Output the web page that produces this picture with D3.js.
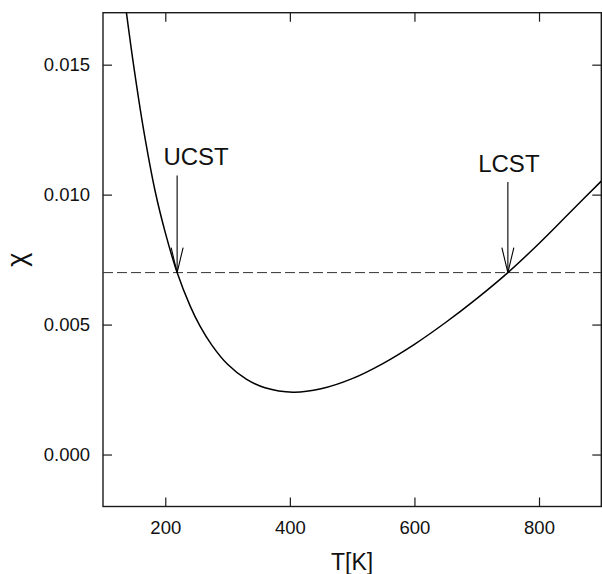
<!DOCTYPE html>
<html>
<head>
<meta charset="utf-8">
<script src="https://cdn.jsdelivr.net/npm/d3@7"></script>
<style>
  html, body { margin: 0; padding: 0; background: #fff; }
  svg { display: block; }
  text { font-family: "Liberation Sans", Arial, Helvetica, sans-serif; fill: #111; }
</style>
</head>
<body>
<svg id="chart" width="602" height="574"></svg>
<script>
// Flory-Huggins interaction parameter chi versus temperature
const temperature = [137.4, 149, 165, 184, 200, 219, 240, 256, 275, 300, 330, 360, 405, 450, 500, 550, 600, 650, 700, 750, 800, 850, 900];
const chi = [0.01704, 0.0150, 0.01252, 0.0101, 0.00854, 0.0070, 0.00571, 0.00493, 0.00420, 0.00347, 0.00290, 0.00257, 0.00240, 0.00253, 0.00292, 0.00351, 0.00424, 0.00508, 0.00600, 0.00700, 0.00812, 0.00932, 0.01052];

// critical chi level and the two critical solution temperatures
const chiCritical = 0.007;
const criticalNames = ["UCST", "LCST"];
const criticalT = [219, 750];
const arrowTopChi = [0.01074, 0.01049];

const xTicks = [200, 400, 600, 800];
const yTicks = [0.000, 0.005, 0.010, 0.015];
const xDomain = [100, 900];
const yDomain = [-0.002, 0.017];

const svg = d3.select("#chart");
const plotLeft = 103, plotRight = 601.3, plotTop = 12.7, plotBottom = 506.5;

const x = d3.scaleLinear().domain(xDomain).range([plotLeft, plotRight]);
const y = d3.scaleLinear().domain(yDomain).range([plotBottom, plotTop]);

const ink = "#1a1a1a";

svg.append("defs").append("clipPath").attr("id", "plot-clip")
  .append("rect").attr("x", plotLeft).attr("y", plotTop)
  .attr("width", plotRight - plotLeft).attr("height", plotBottom - plotTop);

// axes with inward ticks on all four sides
const gB = svg.append("g").attr("transform", `translate(0,${plotBottom})`)
  .call(d3.axisBottom(x).tickValues(xTicks).tickSize(-9).tickPadding(14).tickFormat(d3.format("d")));
const gT = svg.append("g").attr("transform", `translate(0,${plotTop})`)
  .call(d3.axisTop(x).tickValues(xTicks).tickSize(-9).tickFormat(""));
const gL = svg.append("g").attr("transform", `translate(${plotLeft},0)`)
  .call(d3.axisLeft(y).tickValues(yTicks).tickSize(-9).tickPadding(13).tickFormat(d3.format(".3f")));
const gR = svg.append("g").attr("transform", `translate(${plotRight},0)`)
  .call(d3.axisRight(y).tickValues(yTicks).tickSize(-9).tickFormat(""));

[gB, gT, gL, gR].forEach(g => {
  g.select(".domain").remove();
  g.selectAll(".tick line").attr("stroke", ink).attr("stroke-width", 1.2);
  g.selectAll(".tick text").attr("font-size", 18.5).attr("fill", "#111")
    .attr("font-family", "'Liberation Sans', Arial, sans-serif");
});

// frame
svg.append("rect")
  .attr("x", plotLeft).attr("y", plotTop)
  .attr("width", plotRight - plotLeft).attr("height", plotBottom - plotTop)
  .attr("fill", "none").attr("stroke", ink).attr("stroke-width", 1.4);

const plot = svg.append("g").attr("clip-path", "url(#plot-clip)");

// critical chi line
plot.append("line")
  .attr("x1", x(xDomain[0])).attr("x2", x(xDomain[1]))
  .attr("y1", y(chiCritical)).attr("y2", y(chiCritical))
  .attr("stroke", "#333").attr("stroke-width", 1)
  .attr("stroke-dasharray", "10,4");

// chi(T) curve
const line = d3.line()
  .x((d, i) => x(temperature[i]))
  .y((d, i) => y(chi[i]))
  .curve(d3.curveCatmullRom.alpha(0.5));

plot.append("path")
  .datum(chi)
  .attr("d", line)
  .attr("fill", "none")
  .attr("stroke", "#000")
  .attr("stroke-width", 1.5);

// arrows marking the critical temperatures
const labelDx = [19, 1];
const labelDy = [-10.5, -9.5];
criticalT.forEach((t, i) => {
  const tx = x(t), ty = y(chiCritical), topY = y(arrowTopChi[i]);
  const g = svg.append("g");
  g.append("line")
    .attr("x1", tx).attr("x2", tx).attr("y1", topY).attr("y2", ty)
    .attr("stroke", "#000").attr("stroke-width", 1.1);
  g.append("path")
    .attr("d", `M${tx - 6},${ty - 25}L${tx},${ty}L${tx + 6},${ty - 25}`)
    .attr("fill", "none").attr("stroke", "#000").attr("stroke-width", 1.1);
  g.append("text")
    .attr("x", tx + labelDx[i]).attr("y", topY + labelDy[i])
    .attr("text-anchor", "middle")
    .attr("font-size", 24)
    .text(criticalNames[i]);
});

// axis titles
svg.append("text")
  .attr("x", (plotLeft + plotRight) / 2).attr("y", 570)
  .attr("text-anchor", "middle")
  .attr("font-size", 23)
  .text("T[K]");

svg.append("text")
  .attr("transform", `translate(26,${(plotTop + plotBottom) / 2}) rotate(-90)`)
  .attr("text-anchor", "middle")
  .attr("font-size", 27)
  .text("χ");
</script>
</body>
</html>
